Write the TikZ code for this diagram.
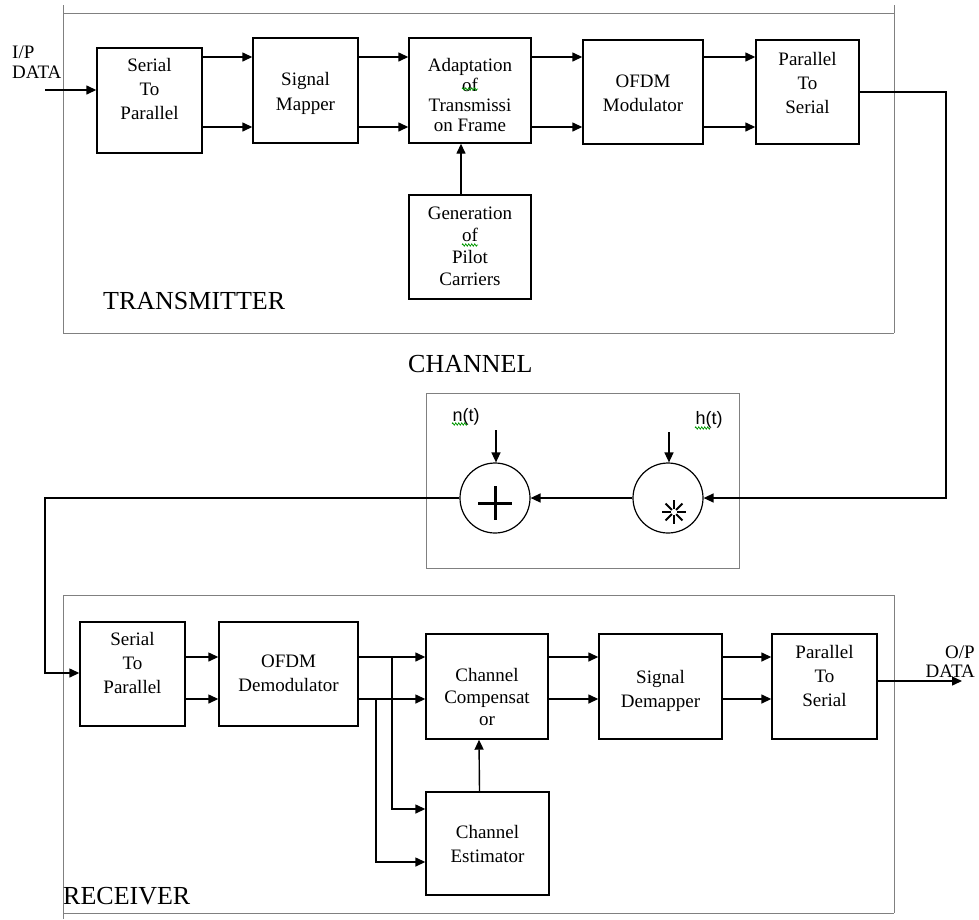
\documentclass[tikz,border=0pt]{standalone}
\usepackage{fontspec}
\setmainfont{Liberation Serif}
\newfontfamily\labsans{Liberation Sans}
\usetikzlibrary{arrows.meta,decorations.pathmorphing}
\begin{document}
\begin{tikzpicture}[x=1pt,y=-1pt,
  blk/.style={draw, line width=1.4pt, inner sep=0pt},
  txt/.style={anchor=north, inner sep=0pt, align=center, font=\fontsize{19}{24}\selectfont},
  txtf/.style={anchor=north, inner sep=0pt, align=center, font=\fontsize{19}{#1}\selectfont},
  lab/.style={anchor=north west, inner sep=0pt, font=\fontsize{26}{30}\selectfont},
  small/.style={inner sep=0pt, font=\fontsize{19}{20}\selectfont},
  frame/.style={draw=black!50, line width=1pt},
  conn/.style={line width=1.4pt},
  arr/.style={conn, -{Triangle[length=10pt,width=9pt]}},
  summ/.style={circle, draw, line width=1.2pt, minimum size=70pt, inner sep=0pt},
  squig/.style={draw=green!60!black, line width=0.7pt, decorate, decoration={zigzag, amplitude=1.2pt, segment length=3pt}}
]
\useasboundingbox (0,0) rectangle (979,919);

% frames
\draw[frame] (63,5) -- (63,333) (894,5) -- (894,333) (63,13) -- (894,13) (63,333) -- (894,333);
\draw[frame] (426,393) rectangle (739,568);
\draw[frame] (63,595) -- (63,919) (894,595) -- (894,913) (63,595) -- (894,595) (63,913) -- (894,913);

% labels
\node[lab] (ltx) at (103,292) {TRANSMITTER};
\node[lab] (lch) at (408,355) {CHANNEL};
\node[lab] (lrx) at (63,887) {RECEIVER};

% transmitter blocks
\node[blk, minimum width=105pt, minimum height=105pt] (stp) at (149.5,100.5) {};
\node[txt] (tstp) at (149.5,58) {Serial\\To\\Parallel};
\node[blk, minimum width=105pt, minimum height=105pt] (smap) at (305.5,90.5) {};
\node[txtf=25] (tsmap) at (305.5,72) {Signal\\Mapper};
\node[blk, minimum width=122pt, minimum height=105pt] (adapt) at (470,90.5) {};
\node[txtf=20] (tadapt) at (470,58) {Adaptation\\of\\Transmissi\\on Frame};
\node[blk, minimum width=120pt, minimum height=104pt] (omod) at (643,92) {};
\node[txt] (tomod) at (643,75) {OFDM\\Modulator};
\node[blk, minimum width=103pt, minimum height=104pt] (pts) at (807.5,92) {};
\node[txt] (tpts) at (807.5,52) {Parallel\\To\\Serial};
\node[blk, minimum width=122pt, minimum height=104pt] (pilot) at (470,247) {};
\node[txtf=22] (tpilot) at (470,207) {Generation\\of\\Pilot\\Carriers};

\draw[squig] (462,89) -- (478,89);
\draw[squig] (462,245) -- (478,245);

% input
\node[small, anchor=base west] (ip1) at (12,58) {I/P};
\node[small, anchor=base west] (ip2) at (12,78) {DATA};
\coordinate (in) at (45,90);
\draw[arr] (in) -- (stp.west |- in);

% transmitter connectors
\coordinate (ya) at (0,57);
\coordinate (yb) at (0,127);
\foreach \a/\b in {stp/smap, smap/adapt, adapt/omod, omod/pts}{
  \draw[arr] (\a.east |- ya) -- (\b.west |- ya);
  \draw[arr] (\a.east |- yb) -- (\b.west |- yb);
}
\draw[arr] ([xshift=-9pt]pilot.north) -- ([xshift=-9pt]adapt.south);

% channel
\node[summ] (plus) at (495,498) {};
\node[summ] (conv) at (668,498) {};
\draw[line width=3pt] (478,503) -- (512,503) (495,486) -- (495,520);
\foreach \a in {0,45,...,315}{
  \draw[line width=2pt] (674,512) ++(\a:3pt) -- ++(\a:9pt);
}
\node[inner sep=0pt, font=\labsans\fontsize{18}{20}\selectfont] (nt) at (466,417) {n(t)};
\node[inner sep=0pt, font=\labsans\fontsize{18}{20}\selectfont] (ht) at (709,420) {h(t)};
\draw[squig] (452,424) -- (467,424);
\draw[squig] (695,428) -- (710,428);
\coordinate (nin) at (496,430);
\coordinate (hin) at (669,432);
\draw[arr] (nin) -- (nin |- plus.north);
\draw[arr] (hin) -- (hin |- conv.north);

\coordinate (c1) at (946,92);
\coordinate (c2) at (946,498);
\draw[arr] (pts.east) -- (c1) -- (c2) -- (conv.east);
\draw[arr] (conv.west) -- (plus.east);

% receiver blocks
\node[blk, minimum width=105pt, minimum height=104pt] (rstp) at (132.5,674) {};
\node[txt] (trstp) at (132.5,632) {Serial\\To\\Parallel};
\node[blk, minimum width=139pt, minimum height=104pt] (odem) at (288.5,674) {};
\node[txt] (todem) at (288.5,655) {OFDM\\Demodulator};
\node[blk, minimum width=122pt, minimum height=105pt] (comp) at (487,686.5) {};
\node[txtf=22] (tcomp) at (487,668) {Channel\\Compensat\\or};
\node[blk, minimum width=123pt, minimum height=105pt] (demap) at (660.5,686.5) {};
\node[txt] (tdemap) at (660.5,670) {Signal\\Demapper};
\node[blk, minimum width=105pt, minimum height=105pt] (rpts) at (824.5,686.5) {};
\node[txt] (trpts) at (824.5,645) {Parallel\\To\\Serial};
\node[blk, minimum width=123pt, minimum height=103pt] (est) at (487.5,843.5) {};
\node[txt] (test) at (487.5,825) {Channel\\Estimator};

% channel to receiver
\coordinate (c3) at (45,498);
\coordinate (c4) at (45,673);
\draw[arr] (plus.west) -- (c3) -- (c4) -- (rstp.west |- c4);

% receiver connectors
\coordinate (ra) at (0,657);
\coordinate (rb) at (0,699);
\foreach \a/\b in {rstp/odem, odem/comp, comp/demap, demap/rpts}{
  \draw[arr] (\a.east |- ra) -- (\b.west |- ra);
  \draw[arr] (\a.east |- rb) -- (\b.west |- rb);
}
\coordinate (b1) at (392,657);
\coordinate (b1e) at (392,809);
\coordinate (b2) at (376,699);
\coordinate (b2e) at (376,862);
\draw[arr] (b1) -- (b1e) -- (est.west |- b1e);
\draw[arr] (b2) -- (b2e) -- (est.west |- b2e);
\draw[arr] ([xshift=-8pt]est.north) -- ([xshift=-8pt]comp.south);

% output
\coordinate (outp) at (962,681);
\draw[arr] (rpts.east |- outp) -- (outp);
\node[small, anchor=base east] (op1) at (975,658) {O/P};
\node[small, anchor=base east] (op2) at (975,677) {DATA};
\end{tikzpicture}
\end{document}
